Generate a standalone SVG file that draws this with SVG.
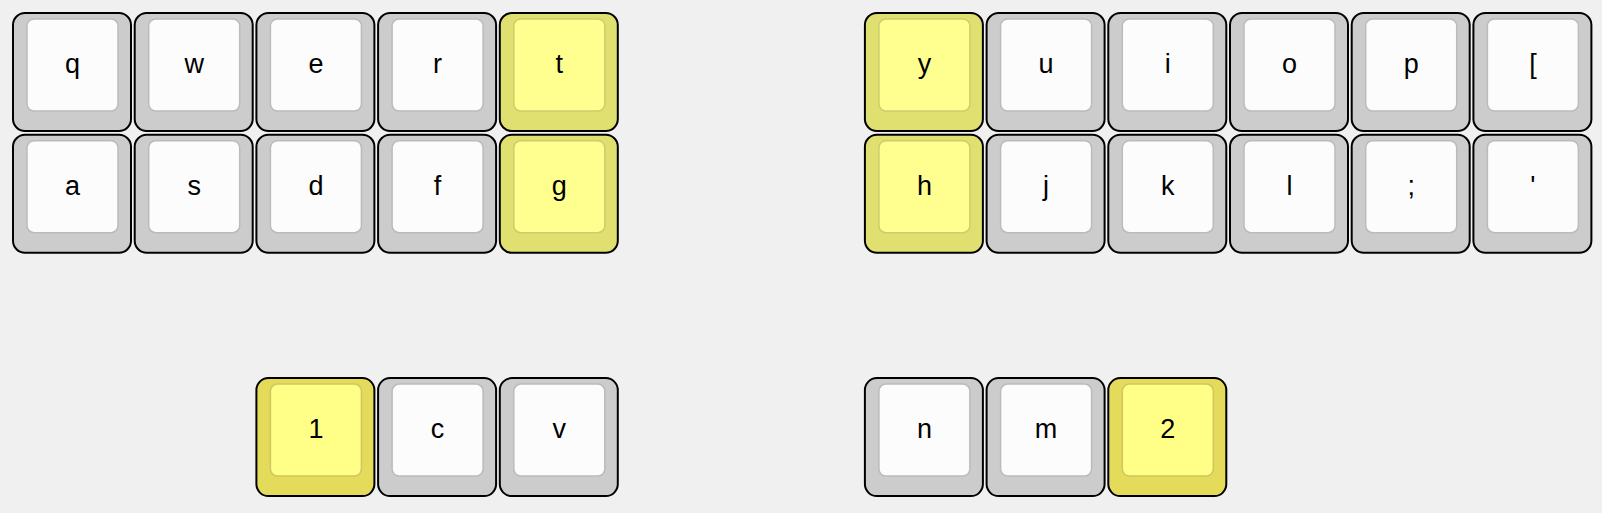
<svg xmlns="http://www.w3.org/2000/svg" width="1602" height="513" viewBox="0 0 1602 513">
<style>
.bg{fill:#f0f0f0}
.ko{fill:#cccccc;stroke:#000;stroke-width:2}
.ki{fill:#fcfcfc;stroke:#bbbbbb;stroke-width:1.5}
.ko.h{fill:#e0e070}
.ki.h{fill:#ffff90;stroke:#cdcd6c}
.ko.c{fill:#e4db5b}
.ki.c{fill:#ffff88;stroke:#cfc661}
text{font-family:"Liberation Sans",Arial,sans-serif;font-size:27px;fill:#000;text-anchor:middle;dominant-baseline:central}
</style>
<rect class="bg" x="0" y="0" width="1602" height="513"/>
<g id="connectors"></g>
<g id="key-q" transform="translate(13,13)"><rect class="ko" width="118" height="118" rx="12"/><rect class="ki" x="14" y="6" width="91" height="92" rx="7"/><text x="59.5" y="51">q</text></g>
<g id="key-w" transform="translate(134.7,13)"><rect class="ko" width="118" height="118" rx="12"/><rect class="ki" x="14" y="6" width="91" height="92" rx="7"/><text x="59.5" y="51">w</text></g>
<g id="key-e" transform="translate(256.4,13)"><rect class="ko" width="118" height="118" rx="12"/><rect class="ki" x="14" y="6" width="91" height="92" rx="7"/><text x="59.5" y="51">e</text></g>
<g id="key-r" transform="translate(378.1,13)"><rect class="ko" width="118" height="118" rx="12"/><rect class="ki" x="14" y="6" width="91" height="92" rx="7"/><text x="59.5" y="51">r</text></g>
<g id="key-t" transform="translate(499.8,13)"><rect class="ko h" width="118" height="118" rx="12"/><rect class="ki h" x="14" y="6" width="91" height="92" rx="7"/><text x="59.5" y="51">t</text></g>
<g id="key-y" transform="translate(864.9,13)"><rect class="ko h" width="118" height="118" rx="12"/><rect class="ki h" x="14" y="6" width="91" height="92" rx="7"/><text x="59.5" y="51">y</text></g>
<g id="key-u" transform="translate(986.6,13)"><rect class="ko" width="118" height="118" rx="12"/><rect class="ki" x="14" y="6" width="91" height="92" rx="7"/><text x="59.5" y="51">u</text></g>
<g id="key-i" transform="translate(1108.3,13)"><rect class="ko" width="118" height="118" rx="12"/><rect class="ki" x="14" y="6" width="91" height="92" rx="7"/><text x="59.5" y="51">i</text></g>
<g id="key-o" transform="translate(1230,13)"><rect class="ko" width="118" height="118" rx="12"/><rect class="ki" x="14" y="6" width="91" height="92" rx="7"/><text x="59.5" y="51">o</text></g>
<g id="key-p" transform="translate(1351.7,13)"><rect class="ko" width="118" height="118" rx="12"/><rect class="ki" x="14" y="6" width="91" height="92" rx="7"/><text x="59.5" y="51">p</text></g>
<g id="key-lbracket" transform="translate(1473.4,13)"><rect class="ko" width="118" height="118" rx="12"/><rect class="ki" x="14" y="6" width="91" height="92" rx="7"/><text x="59.5" y="51">[</text></g>
<g id="key-a" transform="translate(13,134.7)"><rect class="ko" width="118" height="118" rx="12"/><rect class="ki" x="14" y="6" width="91" height="92" rx="7"/><text x="59.5" y="51">a</text></g>
<g id="key-s" transform="translate(134.7,134.7)"><rect class="ko" width="118" height="118" rx="12"/><rect class="ki" x="14" y="6" width="91" height="92" rx="7"/><text x="59.5" y="51">s</text></g>
<g id="key-d" transform="translate(256.4,134.7)"><rect class="ko" width="118" height="118" rx="12"/><rect class="ki" x="14" y="6" width="91" height="92" rx="7"/><text x="59.5" y="51">d</text></g>
<g id="key-f" transform="translate(378.1,134.7)"><rect class="ko" width="118" height="118" rx="12"/><rect class="ki" x="14" y="6" width="91" height="92" rx="7"/><text x="59.5" y="51">f</text></g>
<g id="key-g" transform="translate(499.8,134.7)"><rect class="ko h" width="118" height="118" rx="12"/><rect class="ki h" x="14" y="6" width="91" height="92" rx="7"/><text x="59.5" y="51">g</text></g>
<g id="key-h" transform="translate(864.9,134.7)"><rect class="ko h" width="118" height="118" rx="12"/><rect class="ki h" x="14" y="6" width="91" height="92" rx="7"/><text x="59.5" y="51">h</text></g>
<g id="key-j" transform="translate(986.6,134.7)"><rect class="ko" width="118" height="118" rx="12"/><rect class="ki" x="14" y="6" width="91" height="92" rx="7"/><text x="59.5" y="51">j</text></g>
<g id="key-k" transform="translate(1108.3,134.7)"><rect class="ko" width="118" height="118" rx="12"/><rect class="ki" x="14" y="6" width="91" height="92" rx="7"/><text x="59.5" y="51">k</text></g>
<g id="key-l" transform="translate(1230,134.7)"><rect class="ko" width="118" height="118" rx="12"/><rect class="ki" x="14" y="6" width="91" height="92" rx="7"/><text x="59.5" y="51">l</text></g>
<g id="key-semicolon" transform="translate(1351.7,134.7)"><rect class="ko" width="118" height="118" rx="12"/><rect class="ki" x="14" y="6" width="91" height="92" rx="7"/><text x="59.5" y="51">;</text></g>
<g id="key-quote" transform="translate(1473.4,134.7)"><rect class="ko" width="118" height="118" rx="12"/><rect class="ki" x="14" y="6" width="91" height="92" rx="7"/><text x="59.5" y="51">'</text></g>
<g id="key-1" transform="translate(256.4,378.1)"><rect class="ko c" width="118" height="118" rx="12"/><rect class="ki c" x="14" y="6" width="91" height="92" rx="7"/><text x="59.5" y="51">1</text></g>
<g id="key-c" transform="translate(378.1,378.1)"><rect class="ko" width="118" height="118" rx="12"/><rect class="ki" x="14" y="6" width="91" height="92" rx="7"/><text x="59.5" y="51">c</text></g>
<g id="key-v" transform="translate(499.8,378.1)"><rect class="ko" width="118" height="118" rx="12"/><rect class="ki" x="14" y="6" width="91" height="92" rx="7"/><text x="59.5" y="51">v</text></g>
<g id="key-n" transform="translate(864.9,378.1)"><rect class="ko" width="118" height="118" rx="12"/><rect class="ki" x="14" y="6" width="91" height="92" rx="7"/><text x="59.5" y="51">n</text></g>
<g id="key-m" transform="translate(986.6,378.1)"><rect class="ko" width="118" height="118" rx="12"/><rect class="ki" x="14" y="6" width="91" height="92" rx="7"/><text x="59.5" y="51">m</text></g>
<g id="key-2" transform="translate(1108.3,378.1)"><rect class="ko c" width="118" height="118" rx="12"/><rect class="ki c" x="14" y="6" width="91" height="92" rx="7"/><text x="59.5" y="51">2</text></g>
</svg>
